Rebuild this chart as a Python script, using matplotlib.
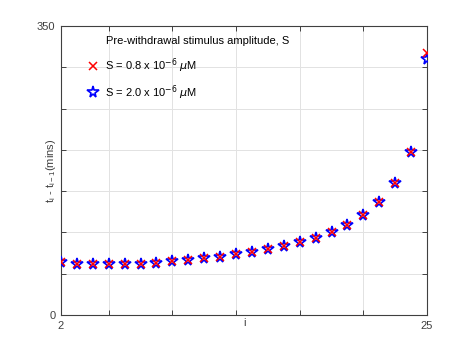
import matplotlib
matplotlib.use("Agg")
import matplotlib.pyplot as plt
import numpy as np

plt.rcParams['font.family'] = ['Liberation Sans', 'DejaVu Sans']

i_vals = list(range(2, 26))
s_low = [63.8, 61.6, 61.4, 61.4, 61.8, 62.3, 63.0, 65.4, 67.0, 68.7, 70.6, 73.3,
         75.9, 79.8, 83.2, 88.6, 93.6, 100.5, 109.4, 120.7, 136.5, 159.5, 197.8, 317.0]
s_high = [63.8, 61.6, 61.4, 61.4, 61.8, 62.3, 63.0, 65.4, 67.0, 68.7, 70.6, 73.3,
          75.9, 79.8, 83.2, 88.6, 93.6, 100.5, 109.4, 120.7, 136.5, 159.5, 197.8, 310.0]
label_low = r'S = 0.8 x 10$^{-6}$ $\mu$M'
label_high = r'S = 2.0 x 10$^{-6}$ $\mu$M'
legend_title = 'Pre-withdrawal stimulus amplitude, S'
x_ticks = [2, 5, 9, 13, 17, 21, 25]
x_ticklabels = ['2', '', '', '', '', '', '25']
y_ticks = [0, 50, 100, 150, 200, 250, 300, 350]
y_ticklabels = ['0', '', '', '', '', '', '', '350']

fig = plt.figure(figsize=(4.72, 3.54), dpi=100)
ax = fig.add_axes([0.1292, 0.1102, 0.7755, 0.8164])

hs = ax.plot(i_vals, s_high, linestyle='none', marker='*', markersize=8.5,
             markerfacecolor='none', markeredgecolor='blue', markeredgewidth=1.2,
             label=label_high, zorder=3)[0]
hl = ax.plot(i_vals, s_low, linestyle='none', marker='x', markersize=6,
             color='red', markeredgewidth=1.1, label=label_low, zorder=4)[0]

ax.set_xlim(2, 25)
ax.set_ylim(0, 350)
ax.set_xticks(x_ticks)
ax.set_xticklabels(x_ticklabels)
ax.set_yticks(y_ticks)
ax.set_yticklabels(y_ticklabels)

ax.grid(True, color='#e2e2e2', linewidth=0.7)
ax.set_axisbelow(True)
ax.tick_params(direction='in', length=3.5, width=0.7, colors='#404040',
               labelsize=8, top=True, right=True, pad=4)
for sp in ax.spines.values():
    sp.set_color('#404040')
    sp.set_linewidth(0.8)

ax.set_xlabel('i', fontsize=8, color='#404040', labelpad=-9)
ax.set_ylabel(r'$\mathregular{t_i}$ - $\mathregular{t_{i-1}}$(mins)', fontsize=8,
              color='#404040', labelpad=-15)

leg = ax.legend([hl, hs], [label_low, label_high], loc='upper left',
                bbox_to_anchor=(0.066, 0.895), frameon=False, fontsize=8,
                handletextpad=0.3, labelspacing=0.72, handlelength=1.5,
                borderaxespad=0, borderpad=0)
ax.text(0.123, 0.965, legend_title, transform=ax.transAxes, fontsize=8,
        ha='left', va='top', color='black')

fig.savefig('out.png', dpi=100)
